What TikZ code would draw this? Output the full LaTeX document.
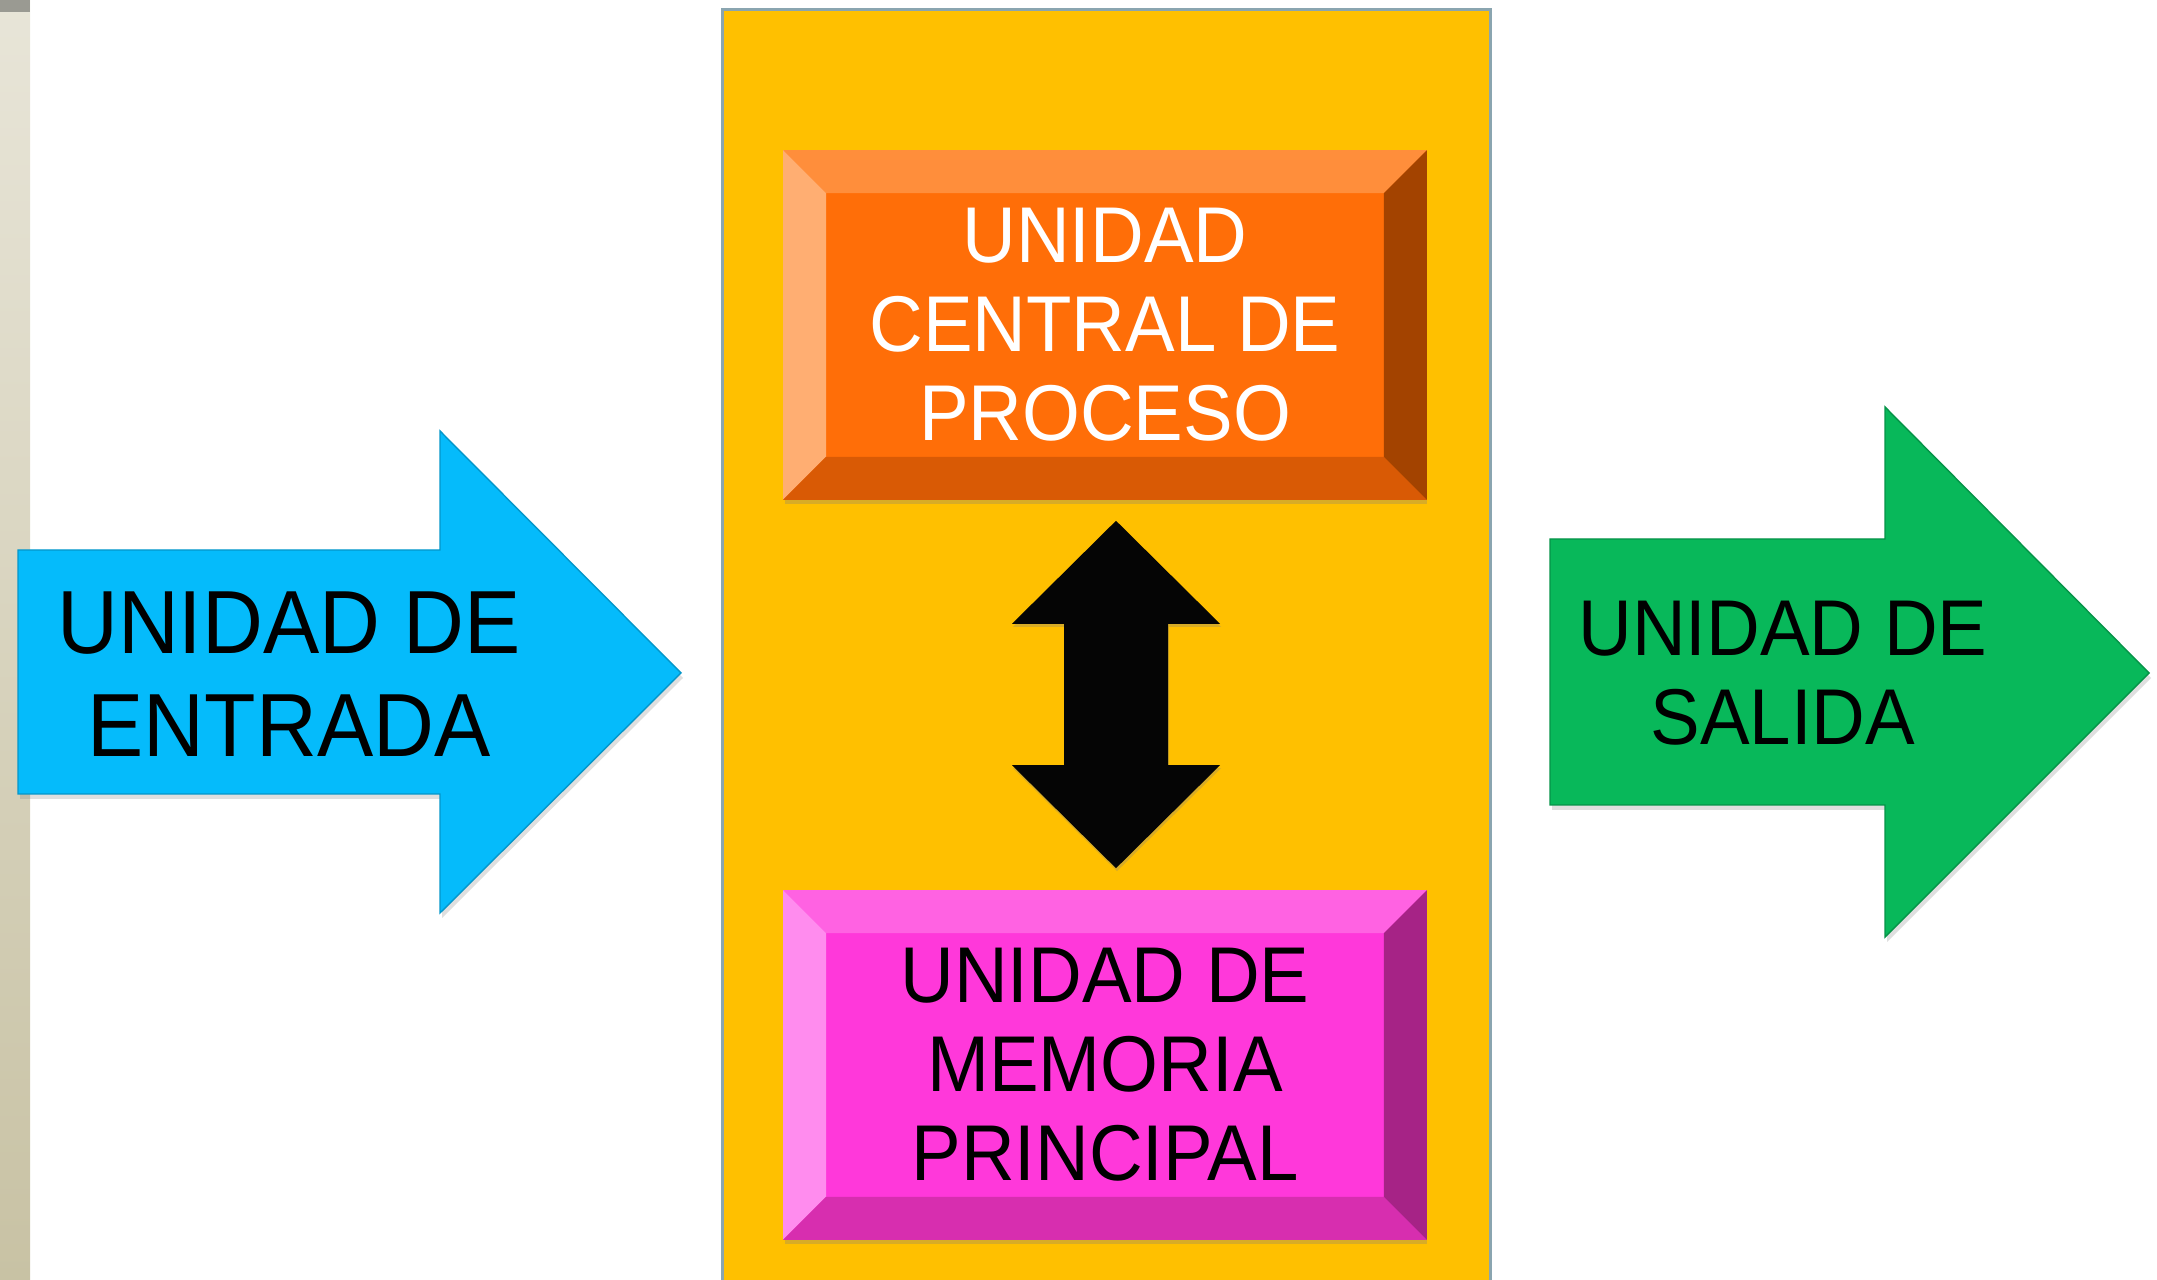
\documentclass[tikz,border=0pt]{standalone}
\usepackage{fontspec}
\setmainfont{Liberation Sans}[FakeStretch=0.94]
\usetikzlibrary{calc,
                positioning,
                shadows
            }

\definecolor{stripTop}{HTML}{E8E5D8}
\definecolor{stripBot}{HTML}{C8C2A4}
\definecolor{stripDark}{HTML}{9A9A92}
\definecolor{panelFill}{HTML}{FFC000}
\definecolor{panelLine}{HTML}{8AA5B0}
\definecolor{cpuFace}{HTML}{FF6E08}
\definecolor{cpuTop}{HTML}{FF8E3B}
\definecolor{cpuLeft}{HTML}{FFAE72}
\definecolor{cpuBottom}{HTML}{D95A05}
\definecolor{cpuRight}{HTML}{A34300}
\definecolor{memFace}{HTML}{FF38DA}
\definecolor{memTop}{HTML}{FF62E2}
\definecolor{memLeft}{HTML}{FF8CEE}
\definecolor{memBottom}{HTML}{D72EAF}
\definecolor{memRight}{HTML}{A62386}
\definecolor{inBlue}{HTML}{05BBFB}
\definecolor{outGreen}{HTML}{08B85A}
\definecolor{busBlack}{HTML}{050505}

% bevel round a box node: name, top, left, bottom, right
\newcommand\bevelbox[5]{
    \fill[#2] (#1.north west) -- (#1.north east) -- ($(#1.north east)+(-43,43)$) -- ($(#1.north west)+(43,43)$) -- cycle;
    \fill[#3] (#1.north west) -- ($(#1.north west)+(43,43)$) -- ($(#1.south west)+(43,-43)$) -- (#1.south west) -- cycle;
    \fill[#4] (#1.south west) -- ($(#1.south west)+(43,-43)$) -- ($(#1.south east)+(-43,-43)$) -- (#1.south east) -- cycle;
    \fill[#5] (#1.north east) -- (#1.south east) -- ($(#1.south east)+(-43,-43)$) -- ($(#1.north east)+(-43,43)$) -- cycle;
}

\begin{document}
\begin{tikzpicture}[x=0.01cm, y=-0.01cm,
        unitbox/.style={minimum width=6.42cm, minimum height=3.48cm, inner sep=0pt, align=center,
            font=\fontsize{22.5}{25.3}\selectfont,
            drop shadow={shadow xshift=0.01cm, shadow yshift=-0.05cm, opacity=0.3}},
        arrowtext/.style={align=center, inner sep=0pt, text=black},
        blockarrow/.style={draw=#1!80!black, line width=0.4pt, fill=#1,
            drop shadow={shadow xshift=0.02cm, shadow yshift=-0.05cm, opacity=0.25}}
    ]
    \useasboundingbox (0,0) rectangle (2157,1280);

    % strip on the left and the yellow panel
    \shade[top color=stripTop, bottom color=stripBot] (0,0) rectangle (30,1280);
    \fill[stripDark] (0,0) rectangle (30,12);
    \fill[panelFill] (722,10) rectangle (1490,1290);
    \draw[panelLine, line width=0.03cm] (722,1290) -- (722,10) -- (1490,10) -- (1490,1290);

    % the two units in the panel
    \node[unitbox, fill=cpuFace, text=white] (cpu) at (1105,325) {UNIDAD\\CENTRAL DE\\PROCESO};
    \bevelbox{cpu}{cpuTop}{cpuLeft}{cpuBottom}{cpuRight}
    \node[unitbox, fill=memFace, text=black] (mem) at (1105,1065) {UNIDAD DE\\MEMORIA\\PRINCIPAL};
    \bevelbox{mem}{memTop}{memLeft}{memBottom}{memRight}

    % two-headed arrow between them
    \coordinate (busUp) at ($(cpu.south)+(11,21)$);
    \coordinate (busDown) at ($(mem.north)+(11,-22)$);
    \fill[busBlack, drop shadow={shadow xshift=0.01cm, shadow yshift=-0.03cm, opacity=0.3}]
        (busUp) -- ++(104,103) -- ++(-52,0) -- ($(busDown)+(52,-103)$) -- ++(52,0)
        -- (busDown) -- ++(-104,-103) -- ++(52,0) -- ($(busUp)+(-52,103)$) -- ++(-52,0) -- cycle;

    % input and output arrows
    \fill[blockarrow=inBlue] (18,550) -- (440,550) -- (440,431) -- (681,673)
        -- (440,913) -- (440,794) -- (18,794) -- cycle;
    \node[arrowtext, font=\fontsize{25.5}{29.3}\selectfont] (entrada) at (289,674) {UNIDAD DE\\ENTRADA};

    \fill[blockarrow=outGreen] (1550,539) -- (1885,539) -- (1885,407) -- (2149,673)
        -- (1885,937) -- (1885,805) -- (1550,805) -- cycle;
    \node[arrowtext, font=\fontsize{22.5}{25.3}\selectfont] (salida) at (1783,673) {UNIDAD DE\\SALIDA};
\end{tikzpicture}
\end{document}
